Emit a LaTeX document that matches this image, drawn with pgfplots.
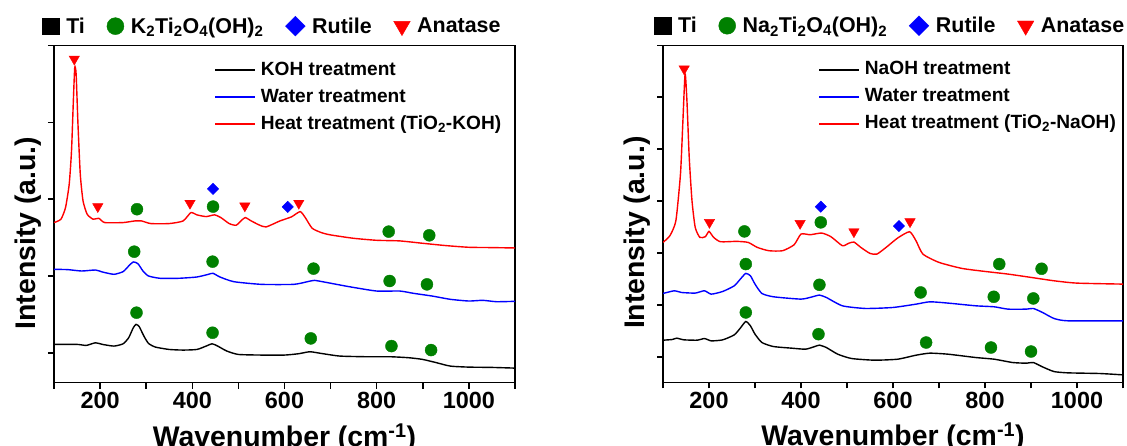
\documentclass[border=0pt]{standalone}
\usepackage{fontspec}
\setmainfont{Liberation Sans}
\usepackage{pgfplots}
\pgfplotsset{compat=1.18}

\definecolor{dkgreen}{RGB}{0,128,0}

% ---------- spectra, left panel (KOH route) ----------
\pgfplotstableread{
x y
100 0.109
150 0.109
170 0.096
190 0.130
205 0.109
230 0.087
250 0.117
262 0.196
272 0.326
278 0.370
285 0.339
295 0.217
305 0.122
320 0.074
350 0.043
380 0.035
410 0.043
430 0.087
443 0.117
455 0.087
475 0.022
500 -0.022
550 -0.030
600 -0.030
630 -0.013
655 0.013
680 -0.009
720 -0.043
780 -0.052
830 -0.052
870 -0.065
900 -0.087
930 -0.130
960 -0.174
1000 -0.187
1050 -0.191
1100 -0.200
}\kohA
\pgfplotstableread{
x y
100 1.087
130 1.083
160 1.065
190 1.078
205 1.052
230 1.022
250 1.057
262 1.130
272 1.183
282 1.161
293 1.065
305 1.000
330 0.970
370 0.970
410 0.987
435 1.022
445 1.035
460 0.987
490 0.926
550 0.891
620 0.891
650 0.926
665 0.943
690 0.917
740 0.861
800 0.804
850 0.804
880 0.774
920 0.739
960 0.696
1000 0.674
1030 0.683
1060 0.665
1100 0.670
}\kohB
\pgfplotstableread{
x y
100 1.696
115 1.739
125 1.891
133 2.196
138 2.630
142 3.283
145 3.717
148 3.630
152 2.978
157 2.326
163 1.978
172 1.804
185 1.739
197 1.752
210 1.696
250 1.696
275 1.717
290 1.717
310 1.683
350 1.683
380 1.717
397 1.826
410 1.796
430 1.774
448 1.796
462 1.761
480 1.683
495 1.661
507 1.726
515 1.761
528 1.717
545 1.665
560 1.639
590 1.717
615 1.770
634 1.839
645 1.761
660 1.622
680 1.565
700 1.535
750 1.491
800 1.465
850 1.457
900 1.426
950 1.396
1000 1.374
1050 1.370
1100 1.365
}\kohC

% ---------- spectra, right panel (NaOH route) ----------
\pgfplotstableread{
x y
100 0.321
120 0.334
130 0.360
145 0.328
175 0.321
190 0.353
205 0.308
230 0.328
255 0.424
268 0.553
280 0.681
290 0.598
300 0.437
315 0.276
340 0.199
380 0.167
410 0.148
430 0.199
440 0.225
455 0.180
480 0.051
510 -0.032
560 -0.064
610 -0.045
650 0.032
680 0.071
720 0.051
780 -0.013
820 -0.045
860 -0.109
890 -0.122
905 -0.109
925 -0.193
950 -0.283
980 -0.308
1050 -0.321
1100 -0.347
}\naA
\pgfplotstableread{
x y
100 1.221
125 1.273
140 1.240
170 1.228
190 1.273
205 1.208
230 1.260
255 1.369
270 1.517
280 1.607
290 1.562
300 1.401
315 1.221
340 1.157
400 1.112
425 1.157
440 1.189
455 1.144
490 0.983
540 0.932
600 0.951
650 1.015
680 1.060
720 1.035
780 0.983
820 0.964
850 0.919
890 0.919
905 0.932
925 0.855
950 0.739
980 0.694
1100 0.694
}\naB
\pgfplotstableread{
x y
100 2.204
115 2.333
128 2.622
138 3.522
143 4.486
148 5.450
152 4.936
157 3.843
163 3.008
170 2.494
180 2.301
192 2.314
200 2.416
210 2.301
225 2.217
260 2.224
285 2.204
305 2.108
330 2.044
360 2.044
385 2.159
400 2.365
420 2.352
445 2.384
465 2.314
490 2.140
503 2.185
515 2.211
530 2.108
550 1.992
565 1.979
585 2.108
610 2.288
636 2.410
650 2.236
665 1.979
700 1.819
750 1.703
800 1.645
850 1.594
900 1.530
950 1.465
1000 1.420
1100 1.401
}\naC

\pgfplotsset{
  raman/.style={
    scale only axis, width=#1, height=337bp, anchor=south west,
    xmin=100, xmax=1100,
    xtick={100,200,...,1100},
    xticklabels={,200,,400,,600,,800,,1000,},
    yticklabels={},
    tick align=outside, tick pos=left,
    major tick length=6bp,
    axis line style={line width=1.5bp},
    every tick/.style={line width=1.5bp, black},
    /pgf/number format/assume math mode=true,
    ticklabel style={font=\fontsize{23.5}{24}\selectfont\bfseries},
    xlabel={Wavenumber (cm\textsuperscript{-1})},
    ylabel={Intensity (a.u.)},
    every axis x label/.style={at={(axis description cs:0.5,-0.189)}, anchor=base,
      font=\fontsize{28.5}{30}\selectfont\bfseries},
    every axis y label/.style={at={(axis description cs:-0.041,0.444)}, rotate=90, anchor=base,
      font=\fontsize{28.5}{30}\selectfont\bfseries},
    legend cell align=left,
    legend style={draw=none, fill=none, inner sep=0pt, row sep=9bp,
      font=\fontsize{19.2}{20}\selectfont\bfseries,
      nodes={inner sep=0pt, text height=14bp, text depth=4bp, anchor=west},
      /tikz/every odd column/.append style={column sep=5bp}},
    legend image code/.code={\draw[##1, line width=1.7bp] (0bp,0bp) -- (40bp,0bp);},
  },
  phase legend/.style={
    scale only axis, width=#1, height=337bp, anchor=south west,
    hide axis, xmin=0, xmax=1, ymin=0, ymax=1,
    legend columns=4,
    legend style={draw=none, fill=none, inner sep=0pt, anchor=west,
      font=\fontsize{21.5}{22}\selectfont\bfseries,
      nodes={inner sep=0pt, anchor=west},
      /tikz/every odd column/.append style={column sep=7bp},
      /tikz/every even column/.append style={column sep=22bp}},
    legend image code/.code={\draw[##1] plot coordinates {(0bp,0bp)};},
  },
  spectrum/.style={line width=1.4bp, smooth, tension=0.35},
  ti2/.style={only marks, mark=*, mark size=6bp, dkgreen, forget plot},
  rut/.style={only marks, mark=square*, mark size=4bp, mark options={rotate=45}, blue, forget plot},
  ana/.style={only marks, mark=triangle*, mark size=6bp, mark options={rotate=180}, red, forget plot},
}

\begin{document}
\begin{tikzpicture}
% ================= left panel =================
\begin{axis}[raman=461bp, at={(54bp,63.3bp)}, ymin=-0.39, ymax=4, ytick={0,1,2,3,4},
  legend style={at={(axis description cs:0.347,0.955)}, anchor=north west}]
\addplot[black, spectrum] table {\kohA};
\addlegendentry{KOH treatment}
\addplot[blue, spectrum] table {\kohB};
\addlegendentry{Water treatment}
\addplot[red, spectrum] table {\kohC};
\addlegendentry{Heat treatment (TiO\textsubscript{2}-KOH)}
\addplot[ti2] coordinates {(280,1.870) (445,1.904) (826,1.578) (914,1.530)
  (274,1.317) (444,1.187) (663,1.096) (828,0.935) (909,0.891)
  (279,0.522) (444,0.261) (657,0.187) (832,0.087) (918,0.035)};
\addplot[rut] coordinates {(445,2.135) (607,1.900)};
\addplot[ana] coordinates {(144,3.826) (195,1.904) (395,1.948) (514,1.913) (631,1.948)};
\end{axis}
\begin{axis}[phase legend=461bp, at={(54bp,63.3bp)},
  legend style={at={(axis description cs:-0.025,1.058)}}]
\addlegendimage{only marks, mark=square*, mark size=8.3bp, black}
\addlegendentry{Ti}
\addlegendimage{only marks, mark=*, mark size=8.5bp, dkgreen}
\addlegendentry{K\textsubscript{2}Ti\textsubscript{2}O\textsubscript{4}(OH)\textsubscript{2}}
\addlegendimage{only marks, mark=square*, mark size=7bp, mark options={rotate=45}, blue}
\addlegendentry{Rutile}
\addlegendimage{only marks, mark=triangle*, mark size=9.5bp, mark options={rotate=180}, red}
\addlegendentry{Anatase}
\end{axis}

% ================= right panel =================
\begin{axis}[raman=460bp, at={(663bp,63.7bp)}, ymin=-0.49, ymax=6, ytick={0,1,2,3,4,5,6},
  legend style={at={(axis description cs:0.337,0.955)}, anchor=north west}]
\addplot[black, spectrum] table {\naA};
\addlegendentry{NaOH treatment}
\addplot[blue, spectrum] table {\naB};
\addlegendentry{Water treatment}
\addplot[red, spectrum] table {\naC};
\addlegendentry{Heat treatment (TiO\textsubscript{2}-NaOH)}
\addplot[ti2] coordinates {(277,2.416) (443,2.590) (831,1.787) (923,1.697)
  (280,1.787) (440,1.388) (660,1.240) (819,1.157) (905,1.125)
  (280,0.855) (438,0.437) (672,0.276) (813,0.180) (900,0.103)};
\addplot[rut] coordinates {(443,2.892) (613,2.519)};
\addplot[ana] coordinates {(146,5.546) (201,2.590) (398,2.571) (515,2.410) (637,2.603)};
\end{axis}
\begin{axis}[phase legend=460bp, at={(663bp,63.7bp)},
  legend style={at={(axis description cs:-0.019,1.058)}}]
\addlegendimage{only marks, mark=square*, mark size=8.3bp, black}
\addlegendentry{Ti}
\addlegendimage{only marks, mark=*, mark size=8.5bp, dkgreen}
\addlegendentry{Na\textsubscript{2}Ti\textsubscript{2}O\textsubscript{4}(OH)\textsubscript{2}}
\addlegendimage{only marks, mark=square*, mark size=7bp, mark options={rotate=45}, blue}
\addlegendentry{Rutile}
\addlegendimage{only marks, mark=triangle*, mark size=9.5bp, mark options={rotate=180}, red}
\addlegendentry{Anatase}
\end{axis}

\pgfresetboundingbox
\path[use as bounding box] (0bp,0bp) rectangle (1127bp,446bp);
\end{tikzpicture}
\end{document}
